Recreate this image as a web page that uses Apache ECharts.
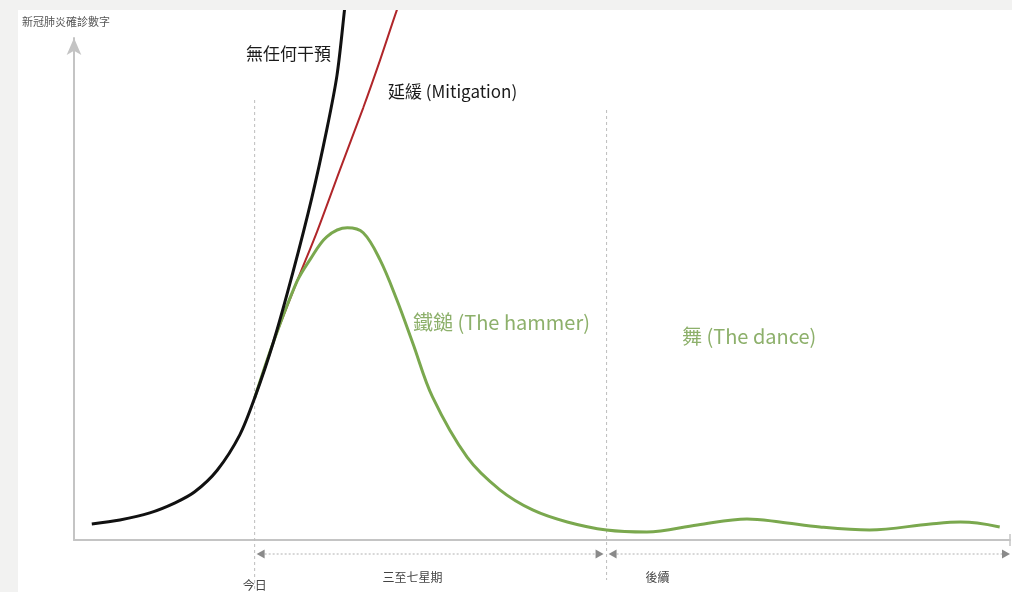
<!DOCTYPE html>
<html>
<head>
<meta charset="utf-8">
<script src="https://cdn.jsdelivr.net/npm/echarts@6/dist/echarts.min.js"></script>
<style>
html,body{margin:0;padding:0;background:#fff;}
#main{width:1012px;height:592px;}
</style>
</head>
<body>
<div id="main"></div>
<script>
// ---- Data (x: time units 0..100, y: cases units 0..100) ----
const noInterventionX = [1.9, 4.9, 8.1, 10.8, 12.9, 15.3, 17.7, 19.3, 21.3, 23.4, 25.4, 27.0, 28.1, 28.9, 29.5];
const noInterventionY = [3.2, 4.0, 5.4, 7.4, 9.6, 13.9, 20.9, 28.3, 39.4, 53.4, 68.1, 81.7, 92.6, 105.6, 116];
const mitigationX = [19.3, 21.3, 23.8, 26.0, 28.4, 30.9, 32.7, 34.5, 35.4];
const mitigationY = [28.3, 39.4, 51.4, 61.6, 73.7, 86.1, 95.6, 105.6, 110];
const hammerDanceX = [19.3, 21.3, 23.8, 25.2, 27.0, 29.2, 30.9, 32.7, 34.5, 36.2, 38.3, 42.0, 45.5, 49.0, 52.7, 56.9, 61.2, 66.6, 71.9, 75.4, 79.7, 85.0, 91.5, 94.7, 96.5, 98.9];
const hammerDanceY = [28.3, 39.4, 51.4, 55.8, 60.4, 62.2, 61.2, 55.8, 47.8, 39.2, 28.5, 16.5, 10.0, 6.0, 3.6, 2.0, 1.6, 3.0, 4.2, 3.6, 2.6, 2.0, 3.2, 3.6, 3.4, 2.6];
const phaseBoundaries = [19.3, 56.9];
const phaseLabels = ['今日', '三至七星期', '後續'];
const yAxisTitle = '新冠肺炎確診數字';
const curveLabels = ['無任何干預', '延緩 (Mitigation)', '鐵鎚 (The hammer)', '舞 (The dance)'];

const zip = (xs, ys) => xs.map((x, i) => [x, ys[i]]);
const FONT = '"Noto Sans CJK TC", "Noto Sans", sans-serif';

const chart = echarts.init(document.getElementById('main'));
const option = {
  backgroundColor: '#ffffff',
  animation: false,
  grid: { left: 74, right: 2, top: 38, bottom: 52 },
  xAxis: {
    type: 'value', min: 0, max: 100,
    axisLine: { show: true, lineStyle: { color: '#c4c4c4', width: 2 } },
    axisTick: { show: false }, axisLabel: { show: false }, splitLine: { show: false }
  },
  yAxis: {
    type: 'value', min: 0, max: 100,
    axisLine: { show: true, symbol: ['none', 'arrow'], symbolSize: [11, 17], lineStyle: { color: '#c4c4c4', width: 2 } },
    axisTick: { show: false }, axisLabel: { show: false }, splitLine: { show: false }
  },
  series: [
    { type: 'line', data: zip(noInterventionX, noInterventionY), smooth: 0.3, showSymbol: false, clip: false, z: 3,
      lineStyle: { color: '#111111', width: 3 } },
    { type: 'line', data: zip(mitigationX, mitigationY), smooth: 0.3, showSymbol: false, clip: false, z: 2,
      lineStyle: { color: '#b0262a', width: 2 } },
    { type: 'line', data: zip(hammerDanceX, hammerDanceY), smooth: 0.35, showSymbol: false, clip: false, z: 2,
      lineStyle: { color: '#7aa84e', width: 3 } }
  ]
};
chart.setOption(option);

const P = (x, y) => chart.convertToPixel({ xAxisIndex: 0, yAxisIndex: 0 }, [x, y]);
const x0 = P(0, 0);
const xEnd = P(100, 0);
const b1 = P(phaseBoundaries[0], 0);
const b2 = P(phaseBoundaries[1], 0);
const arrowY = x0[1] + 14;

function txt(text, x, y, size, color, align) {
  return { type: 'text', z: 50, style: { text: text, x: x, y: y, font: size + 'px ' + FONT, fill: color,
    align: align || 'left', textAlign: align || 'left', verticalAlign: 'middle', textVerticalAlign: 'middle' } };
}
function vline(x, y1, y2) {
  return { type: 'line', z: 1, shape: { x1: x, y1: y1, x2: x, y2: y2 }, style: { stroke: '#bcbcbc', lineWidth: 1, lineDash: [3, 3] } };
}
function dblArrow(xa, xb, y) {
  const h = 4.5, w = 8;
  return [
    { type: 'line', z: 1, shape: { x1: xa + w, y1: y, x2: xb - w, y2: y }, style: { stroke: '#b0b0b0', lineWidth: 1, lineDash: [2, 2] } },
    { type: 'polygon', z: 1, shape: { points: [[xa, y], [xa + w, y - h], [xa + w, y + h]] }, style: { fill: '#8a8a8a' } },
    { type: 'polygon', z: 1, shape: { points: [[xb, y], [xb - w, y - h], [xb - w, y + h]] }, style: { fill: '#8a8a8a' } }
  ];
}

const graphics = [
  vline(b1[0], 100, 592),
  vline(b2[0], 110, 580),
  ...dblArrow(b1[0] + 2, b2[0] - 3, arrowY),
  ...dblArrow(b2[0] + 2, xEnd[0], arrowY),
  { type: 'line', z: 1, shape: { x1: xEnd[0], y1: x0[1] - 6, x2: xEnd[0], y2: x0[1] + 6 }, style: { stroke: '#c4c4c4', lineWidth: 1.5 } },
  txt(phaseLabels[0], b1[0], 585, 12, '#444', 'center'),
  txt(phaseLabels[1], (b1[0] + b2[0]) / 2 - 18, 577, 12, '#444', 'center'),
  txt(phaseLabels[2], b2[0] + 51, 577, 12, '#444', 'center'),
  txt(yAxisTitle, 22, 22, 11, '#555', 'left'),
  txt(curveLabels[0], 246, 54, 17, '#1a1a1a', 'left'),
  txt(curveLabels[1], 388, 92, 17, '#1a1a1a', 'left'),
  txt(curveLabels[2], 413, 322, 20, '#8db06b', 'left'),
  txt(curveLabels[3], 682, 336, 20, '#8db06b', 'left'),
  // page frame strips
  { type: 'rect', z: 100, shape: { x: 0, y: 0, width: 1012, height: 10 }, style: { fill: '#f2f2f1' } },
  { type: 'rect', z: 100, shape: { x: 0, y: 0, width: 18, height: 592 }, style: { fill: '#f2f2f1' } }
];
chart.setOption({ graphic: graphics });
</script>
</body>
</html>
